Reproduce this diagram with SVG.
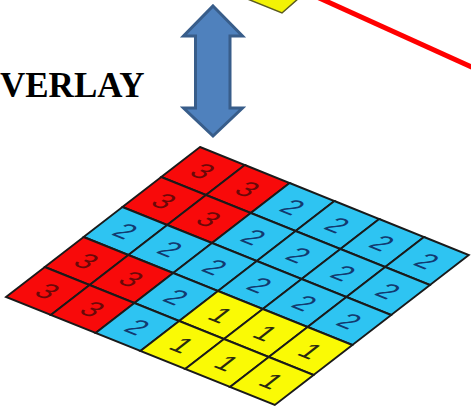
<svg xmlns="http://www.w3.org/2000/svg" width="471" height="408" viewBox="0 0 471 408">
<style>
.c{stroke:#1a1a1a;stroke-width:1.9;vector-effect:non-scaling-stroke}
.r{fill:#F80A0A}
.b{fill:#2EC4F2}
.y{fill:#FAFA05}
.d{font-family:"Liberation Sans",Arial,sans-serif;font-size:58px;text-anchor:middle;dominant-baseline:central}
.d3{fill:#6a0808}
.d2{fill:#123a70}
.d1{fill:#2a2a10}
</style>
<rect width="471" height="408" fill="#ffffff"/>
<g id="upper-layer">
<polygon points="245,-2 299,-2 282,13" fill="#F2F205" stroke="#5a5a20" stroke-width="1.5"/>
</g>
<g id="connectors">
<line x1="317" y1="-3" x2="476" y2="69" stroke="#FF0000" stroke-width="5"/>
</g>
<g id="label">
<text x="0" y="97" font-family="'Liberation Serif','Times New Roman',serif" font-weight="bold" font-size="35" fill="#000">VERLAY</text>
</g>
<g id="arrow">
<polygon points="213,6 242.5,36 230,36 230,108 242.5,108 213,136 183.5,108 195.5,108 195.5,36 183.5,36" fill="#4F81BD" stroke="#385D8A" stroke-width="3" stroke-linejoin="miter"/>
</g>
<g id="grid" transform="matrix(0.448 0.18 -0.388 0.30 200 147)">
<rect class="c r" x="0" y="0" width="100" height="100"/>
<rect class="c r" x="100" y="0" width="100" height="100"/>
<rect class="c b" x="200" y="0" width="100" height="100"/>
<rect class="c b" x="300" y="0" width="100" height="100"/>
<rect class="c b" x="400" y="0" width="100" height="100"/>
<rect class="c b" x="500" y="0" width="100" height="100"/>
<rect class="c r" x="0" y="100" width="100" height="100"/>
<rect class="c r" x="100" y="100" width="100" height="100"/>
<rect class="c b" x="200" y="100" width="100" height="100"/>
<rect class="c b" x="300" y="100" width="100" height="100"/>
<rect class="c b" x="400" y="100" width="100" height="100"/>
<rect class="c b" x="500" y="100" width="100" height="100"/>
<rect class="c b" x="0" y="200" width="100" height="100"/>
<rect class="c b" x="100" y="200" width="100" height="100"/>
<rect class="c b" x="200" y="200" width="100" height="100"/>
<rect class="c b" x="300" y="200" width="100" height="100"/>
<rect class="c b" x="400" y="200" width="100" height="100"/>
<rect class="c b" x="500" y="200" width="100" height="100"/>
<rect class="c r" x="0" y="300" width="100" height="100"/>
<rect class="c r" x="100" y="300" width="100" height="100"/>
<rect class="c b" x="200" y="300" width="100" height="100"/>
<rect class="c y" x="300" y="300" width="100" height="100"/>
<rect class="c y" x="400" y="300" width="100" height="100"/>
<rect class="c y" x="500" y="300" width="100" height="100"/>
<rect class="c r" x="0" y="400" width="100" height="100"/>
<rect class="c r" x="100" y="400" width="100" height="100"/>
<rect class="c b" x="200" y="400" width="100" height="100"/>
<rect class="c y" x="300" y="400" width="100" height="100"/>
<rect class="c y" x="400" y="400" width="100" height="100"/>
<rect class="c y" x="500" y="400" width="100" height="100"/>
<text class="d d3" x="50" y="50">3</text>
<text class="d d3" x="150" y="50">3</text>
<text class="d d2" x="250" y="50">2</text>
<text class="d d2" x="350" y="50">2</text>
<text class="d d2" x="450" y="50">2</text>
<text class="d d2" x="550" y="50">2</text>
<text class="d d3" x="50" y="150">3</text>
<text class="d d3" x="150" y="150">3</text>
<text class="d d2" x="250" y="150">2</text>
<text class="d d2" x="350" y="150">2</text>
<text class="d d2" x="450" y="150">2</text>
<text class="d d2" x="550" y="150">2</text>
<text class="d d2" x="50" y="250">2</text>
<text class="d d2" x="150" y="250">2</text>
<text class="d d2" x="250" y="250">2</text>
<text class="d d2" x="350" y="250">2</text>
<text class="d d2" x="450" y="250">2</text>
<text class="d d2" x="550" y="250">2</text>
<text class="d d3" x="50" y="350">3</text>
<text class="d d3" x="150" y="350">3</text>
<text class="d d2" x="250" y="350">2</text>
<text class="d d1" x="350" y="350">1</text>
<text class="d d1" x="450" y="350">1</text>
<text class="d d1" x="550" y="350">1</text>
<text class="d d3" x="50" y="450">3</text>
<text class="d d3" x="150" y="450">3</text>
<text class="d d2" x="250" y="450">2</text>
<text class="d d1" x="350" y="450">1</text>
<text class="d d1" x="450" y="450">1</text>
<text class="d d1" x="550" y="450">1</text>
</g>
</svg>
